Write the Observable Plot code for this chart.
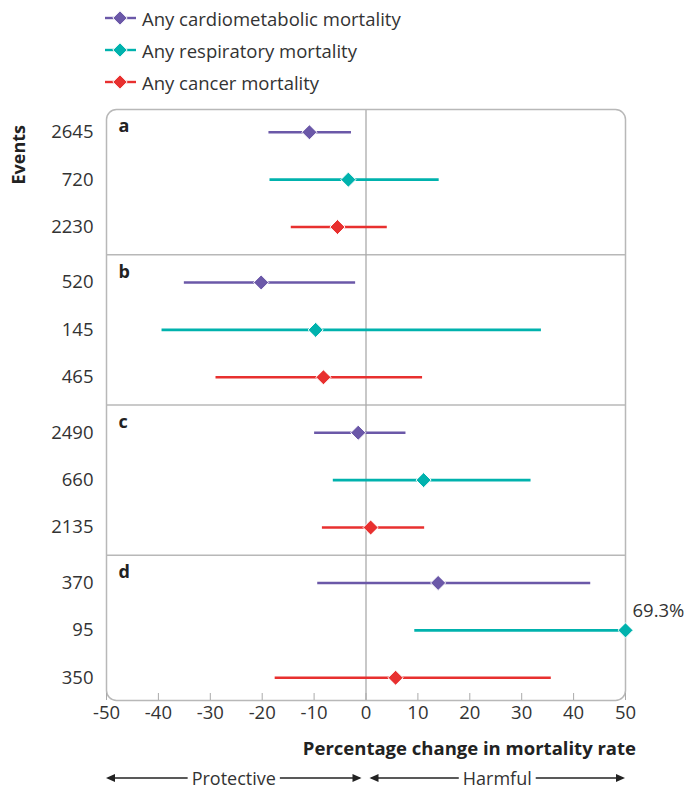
<!DOCTYPE html>
<html>
<head>
<meta charset="utf-8">
<script src="https://cdn.jsdelivr.net/npm/d3@7"></script>
<script src="https://cdn.jsdelivr.net/npm/@observablehq/plot@0.6"></script>
<style>
  body { margin: 0; background: #fff; font-family: "Open Sans", sans-serif; color: #333; }
  #legend { height: 98px; padding-top: 2px; box-sizing: border-box; }
  .item { height: 32px; display: flex; align-items: center; font-size: 18.5px; padding-left: 105px; }
  .item svg { margin-right: 6px; }
  #chart svg { display: block; }
</style>
</head>
<body>
<div id="legend"></div>
<div id="chart"></div>
<script>
// ---- data ----
const panels = ["a", "b", "c", "d"];
const causes = ["Any cardiometabolic mortality", "Any respiratory mortality", "Any cancer mortality"];
const colors = ["#6b58a8", "#00b2ad", "#e8302f"];
const events = [2645, 720, 2230, 520, 145, 465, 2490, 660, 2135, 370, 95, 350];
const estimate = [-10.9, -3.4, -5.5, -20.2, -9.7, -8.2, -1.5, 11.1, 0.9, 13.9, 69.3, 5.7];
const lower = [-18.7, -18.5, -14.4, -35.0, -39.3, -28.9, -9.9, -6.3, -8.4, -9.3, 9.4, -17.5];
const upper = [-2.8, 14.1, 4.1, -2.0, 33.8, 10.9, 7.7, 31.8, 11.3, 43.3, 162, 35.7];
const xTicks = [-50, -40, -30, -20, -10, 0, 10, 20, 30, 40, 50];
const xLabel = "Percentage change in mortality rate";
const yLabel = "Events";
const directionLabels = ["Protective", "Harmful"];

// ---- layout (row index units) ----
const panelGap = 1.169, outer = 0.48;
const rows = events.map((e, i) => {
  const p = Math.floor(i / 3), r = i % 3;
  return { panel: panels[p], cause: causes[r], events: e, est: estimate[i], lo: lower[i], hi: upper[i],
           pos: outer + p * (2 + panelGap) + r };
});
const yMax = rows[rows.length - 1].pos + outer;
const separators = panels.slice(1).map((p, i) => (rows[i * 3 + 2].pos + rows[i * 3 + 3].pos) / 2);
const panelTops = [0, ...separators];
const tickText = new Map(rows.map(d => [d.pos, String(d.events)]));

// ---- legend ----
const leg = d3.select("#legend");
causes.forEach((c, i) => {
  const it = leg.append("div").attr("class", "item");
  const s = it.append("svg").attr("width", 31).attr("height", 16);
  s.append("line").attr("x1", 0).attr("x2", 31).attr("y1", 8).attr("y2", 8)
    .attr("stroke", colors[i]).attr("stroke-width", 2.4);
  s.append("path").attr("d", "M15,0.8L22.2,8L15,15.2L7.8,8Z").attr("fill", colors[i])
    .attr("stroke", "white").attr("stroke-width", 1);
  it.append("span").text(c);
});

// ---- chart ----
const FS = 18.5;
const chart = Plot.plot({
  width: 686, height: 694,
  marginTop: 11, marginLeft: 106, marginRight: 61, marginBottom: 92,
  style: { fontFamily: "Open Sans, sans-serif", fontSize: FS + "px", color: "#333", background: "white" },
  x: { domain: [-50, 50], clamp: true },
  y: { domain: [0, yMax], reverse: true },
  color: { domain: causes, range: colors },
  marks: [
    Plot.ruleY(separators, { stroke: "#b8b8b8", strokeWidth: 1.5 }),
    Plot.ruleX([0], { stroke: "#ababab", strokeWidth: 1.3 }),
    Plot.frame({ rx: 10, stroke: "#b8b8b8", strokeWidth: 1.5 }),
    Plot.ruleY(rows, { y: "pos", x1: "lo", x2: "hi", stroke: "cause", strokeWidth: 2.6 }),
    Plot.dot(rows, { x: "est", y: "pos", symbol: "diamond2", r: 6.8, fill: "cause", stroke: "white", strokeWidth: 1 }),
    Plot.text(rows.filter(d => d.est > 50), { x: "est", y: "pos", text: d => `${d.est}%`, dx: 7, dy: -19,
      textAnchor: "start", fontSize: FS, fill: "#333" }),
    Plot.text(panels, { x: () => -50, y: (d, i) => panelTops[i], text: d => d, dx: 12, dy: 17,
      textAnchor: "start", fontWeight: "bold", fontSize: 18, fill: "#222" }),
    Plot.axisX({ ticks: xTicks, tickFormat: d => String(d), tickSize: -7, tickPadding: 12,
      stroke: "#aaa", fill: "#333", fontSize: FS, label: null }),
    Plot.axisY({ ticks: rows.map(d => d.pos), tickFormat: d => tickText.get(d), tickSize: 0, tickPadding: 13,
      fill: "#333", fontSize: FS, label: null })
  ]
});
document.getElementById("chart").appendChild(chart);

// ---- annotations using the plot's x scale ----
const svg = d3.select(chart);
const xs = chart.scale("x");
const X = v => xs.apply(v);

svg.append("text").attr("transform", `translate(18,27) rotate(-90)`)
  .attr("text-anchor", "end").attr("dominant-baseline", "central")
  .attr("font-weight", "bold").attr("font-size", 18).attr("fill", "#222").text(yLabel);

svg.append("text").attr("x", X(50) + 11).attr("y", 649)
  .attr("text-anchor", "end").attr("dominant-baseline", "central")
  .attr("font-weight", "bold").attr("font-size", FS).attr("fill", "#222").text(xLabel);

const spans = [[X(-50), X(0) - 4], [X(0) + 4, X(50)]];
const ay = 680;
function head(g, tip, dir) {
  g.append("path").attr("d", `M${tip},${ay}L${tip - dir * 9},${ay - 4}L${tip - dir * 9},${ay + 4}Z`).attr("fill", "#222");
}
spans.forEach(([a, b], i) => {
  const g = svg.append("g");
  const mid = (a + b) / 2;
  const t = g.append("text").attr("x", mid).attr("y", ay).attr("text-anchor", "middle")
    .attr("dominant-baseline", "central").attr("font-size", 18).attr("fill", "#333").text(directionLabels[i]);
  const w = t.node().getComputedTextLength();
  g.append("line").attr("x1", a + 2).attr("x2", mid - w / 2 - 4).attr("y1", ay).attr("y2", ay).attr("stroke", "#222").attr("stroke-width", 1.5);
  g.append("line").attr("x1", mid + w / 2 + 4).attr("x2", b - 2).attr("y1", ay).attr("y2", ay).attr("stroke", "#222").attr("stroke-width", 1.5);
  head(g, a, -1);
  head(g, b, 1);
});
</script>
</body>
</html>
